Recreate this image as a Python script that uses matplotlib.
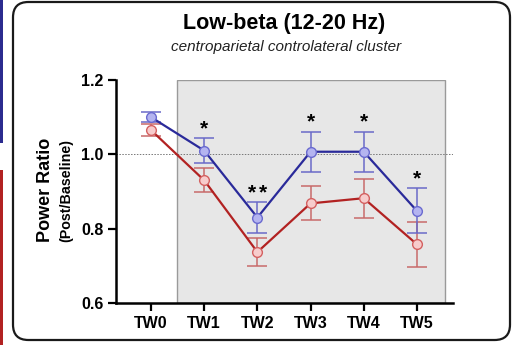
import matplotlib
matplotlib.use("Agg")
import matplotlib.pyplot as plt
from matplotlib.patches import FancyBboxPatch, Rectangle

plt.rcParams['font.family'] = ['Liberation Sans', 'DejaVu Sans']

categories = ["TW0", "TW1", "TW2", "TW3", "TW4", "TW5"]
blue_vals = [1.100, 1.010, 0.830, 1.007, 1.007, 0.848]
blue_err = [0.013, 0.034, 0.042, 0.054, 0.054, 0.061]
red_vals = [1.065, 0.930, 0.737, 0.868, 0.882, 0.758]
red_err = [0.017, 0.032, 0.038, 0.046, 0.052, 0.060]
stars = ["", "*", "**", "*", "*", "*"]
yticks = [0.6, 0.8, 1.0, 1.2]

W, H = 513, 345
fig = plt.figure(figsize=(W / 100, H / 100), dpi=100)

# side stripes (neighbouring panels)
fig.patches.append(Rectangle((0, 1 - 143 / H), 3 / W, 143 / H, transform=fig.transFigure,
                             facecolor="#2b2b8f", edgecolor="none"))
fig.patches.append(Rectangle((0, 0), 3 / W, 1 - 170 / H, transform=fig.transFigure,
                             facecolor="#b22222", edgecolor="none"))
# rounded frame
fig.patches.append(FancyBboxPatch((13 / W, 5 / H), (510 - 13) / W, (343 - 5) / H,
                                  boxstyle="round,pad=0,rounding_size=0.03",
                                  transform=fig.transFigure, facecolor="none",
                                  edgecolor="#1a1a1a", linewidth=1.6, mutation_aspect=W / H))

ax = fig.add_axes([116 / W, 1 - 303 / H, (453 - 116) / W, (303 - 80) / H])
ax.set_facecolor("none")
x = list(range(len(categories)))

ax.add_patch(Rectangle((0.48, 0.6), 5.53 - 0.48, 0.6, facecolor="#e7e7e7",
                       edgecolor="#9a9a9a", linewidth=1.0, zorder=0))
ax.axhline(1.0, color="#777777", linestyle=(0, (1.5, 1.5)), linewidth=0.7, zorder=1)

ax.errorbar(x, red_vals, yerr=red_err, fmt="none", ecolor="#c86a6a", elinewidth=1.1,
            capsize=7.5, capthick=1.1, zorder=2)
ax.plot(x, red_vals, color="#b22222", linewidth=1.6, marker="o", markersize=7,
        markerfacecolor="#f7cccc", markeredgecolor="#d46060", markeredgewidth=1.0, zorder=3)
ax.errorbar(x, blue_vals, yerr=blue_err, fmt="none", ecolor="#6a6ac8", elinewidth=1.1,
            capsize=7.5, capthick=1.1, zorder=4)
ax.plot(x, blue_vals, color="#2a2a9a", linewidth=1.6, marker="o", markersize=7,
        markerfacecolor="#b4b4f0", markeredgecolor="#6a6ad0", markeredgewidth=1.0, zorder=5)

for xi, v, e, s in zip(x, blue_vals, blue_err, stars):
    n = len(s)
    for k in range(n):
        dx = (k - (n - 1) / 2) * 8.5
        ax.annotate("*", (xi, v + e), xytext=(dx, 0), textcoords="offset points",
                    ha="center", va="bottom", fontsize=15, fontweight="bold", zorder=6)

ax.set_xlim(-0.66, 5.68)
ax.set_ylim(0.6, 1.2)
ax.set_yticks(yticks)
ax.set_yticklabels([f"{t:.1f}" for t in yticks])
ax.set_xticks(x)
ax.set_xticklabels(categories)
for sp in ["top", "right"]:
    ax.spines[sp].set_visible(False)
for sp in ["left", "bottom"]:
    ax.spines[sp].set_linewidth(1.8)
ax.tick_params(axis="both", width=1.6, length=6, labelsize=11.5, pad=3)
for lab in ax.get_xticklabels() + ax.get_yticklabels():
    lab.set_fontweight("bold")

fig.text(284 / W, 1 - 24 / H, "Low-beta (12-20 Hz)", ha="center", va="center",
         fontsize=15.5, fontweight="bold")
fig.text(286 / W, 1 - 47 / H, "centroparietal controlateral cluster",
         ha="center", va="center", fontsize=11, style="italic", color="#222222")
fig.text(45 / W, 1 - 190 / H, "Power Ratio", ha="center", va="center", rotation=90,
         fontsize=13, fontweight="bold")
fig.text(66 / W, 1 - 191 / H, "(Post/Baseline)", ha="center", va="center", rotation=90,
         fontsize=10.3, fontweight="bold")

fig.savefig("out.png", dpi=100)
